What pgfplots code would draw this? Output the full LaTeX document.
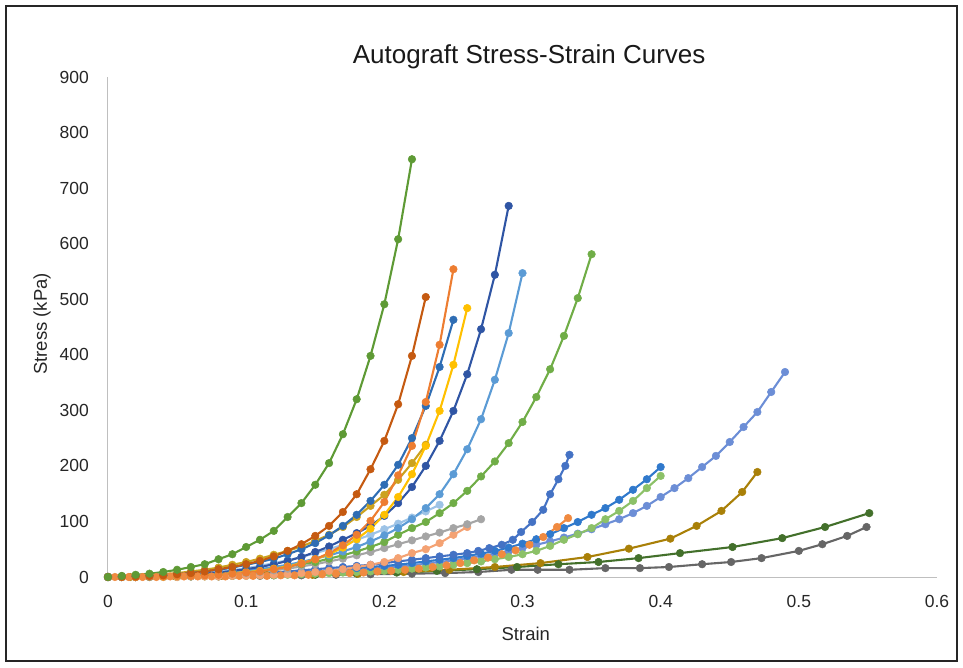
\documentclass[border=0pt]{standalone}
\usepackage{fontspec}
\setmainfont{Liberation Sans}
\usepackage{pgfplots}
\pgfplotsset{compat=1.18}
\definecolor{cA}{HTML}{5E9A35}
\definecolor{cB}{HTML}{C55A11}
\definecolor{cC}{HTML}{ED7D31}
\definecolor{cD}{HTML}{2E6DB4}
\definecolor{cE}{HTML}{FFC000}
\definecolor{cE2}{HTML}{CCA21E}
\definecolor{cF}{HTML}{2F55A4}
\definecolor{cG}{HTML}{5B9BD5}
\definecolor{cH}{HTML}{9DC3E6}
\definecolor{cI}{HTML}{70AD47}
\definecolor{cJ}{HTML}{A5A5A5}
\definecolor{cK}{HTML}{F4A273}
\definecolor{cK2}{HTML}{F08A40}
\definecolor{cL}{HTML}{4472C4}
\definecolor{cM}{HTML}{3079CC}
\definecolor{cN}{HTML}{8CC168}
\definecolor{cO}{HTML}{6C8ED6}
\definecolor{cP}{HTML}{A98008}
\definecolor{cQ}{HTML}{43702B}
\definecolor{cR}{HTML}{666666}
\pgfplotsset{
  ser/.style={color=#1, line width=2.1pt, mark=*, mark size=3.8pt, mark options={fill=#1, draw=#1, line width=0.5pt}}
}
\begin{document}
\begin{tikzpicture}
\begin{axis}[
  at={(0pt,0pt)}, anchor=origin, scale only axis,
  width=829pt, height=500pt,
  xmin=0, xmax=0.6, ymin=0, ymax=900,
  axis x line*=bottom, axis y line*=left,
  axis line style={draw=black!25, line width=1pt},
  major tick length=0pt,
  xtick={0,0.1,0.2,0.3,0.4,0.5,0.6},
  xticklabels={0,0.1,0.2,0.3,0.4,0.5,0.6},
  ytick={0,100,200,300,400,500,600,700,800,900},
  /pgf/number format/assume math mode=true,
  tick label style={font=\fontsize{17.5}{19}\selectfont, text=black!85},
  yticklabel style={inner sep=0pt, xshift=-19pt},
  xticklabel style={inner sep=0pt, yshift=-18pt},
  xlabel={Strain},
  ylabel={Stress (kPa)},
  xlabel style={at={(axis description cs:0.504,-0.114)}, anchor=center, font=\fontsize{18.5}{20}\selectfont, text=black!85},
  ylabel style={at={(axis description cs:-0.0796,0.506)}, anchor=center, font=\fontsize{18.5}{20}\selectfont, text=black!85},
  title={Autograft Stress-Strain Curves},
  title style={at={(axis description cs:0.508,1.028)}, anchor=center, font=\fontsize{26}{30}\selectfont, text=black!90},
  clip=false,
]
\addplot[ser=cR] coordinates {(0,0)(0.02,0)(0.05,1)(0.08,1)(0.11,2)(0.14,3)(0.165,4)(0.19,5)(0.22,6)(0.244,7)(0.268,9)(0.292,13)(0.311,13)(0.334,13)(0.36,16)(0.385,16)(0.406,18)(0.43,23)(0.451,27)(0.473,34)(0.5,47)(0.517,59)(0.535,74)(0.549,90)};
\addplot[ser=cQ] coordinates {(0,0)(0.03,0)(0.06,1)(0.09,2)(0.12,3)(0.15,4)(0.18,6)(0.209,8)(0.238,11)(0.267,14)(0.296,18)(0.326,23)(0.355,27)(0.384,34)(0.414,43)(0.452,54)(0.488,70)(0.519,90)(0.551,115)};
\addplot[ser=cP] coordinates {(0,0)(0.016,0)(0.049,1)(0.082,2)(0.115,3)(0.148,4)(0.181,6)(0.214,9)(0.247,13)(0.28,18)(0.313,25)(0.347,36)(0.377,51)(0.407,69)(0.426,92)(0.444,119)(0.459,153)(0.47,189)};
\addplot[ser=cO] coordinates {(0,0)(0.01,0)(0.02,0)(0.03,0)(0.04,1)(0.05,1)(0.06,1)(0.07,2)(0.08,2)(0.09,3)(0.10,3)(0.11,4)(0.12,5)(0.13,6)(0.14,7)(0.15,8)(0.16,10)(0.17,11)(0.18,13)(0.19,15)(0.20,17)(0.21,19)(0.22,21)(0.23,24)(0.24,27)(0.25,30)(0.26,34)(0.27,38)(0.28,42)(0.29,47)(0.30,52)(0.31,58)(0.32,64)(0.33,71)(0.34,78)(0.35,86)(0.36,95)(0.37,104)(0.38,115)(0.39,128)(0.40,144)(0.41,160)(0.42,178)(0.43,198)(0.44,218)(0.45,243)(0.46,270)(0.47,297)(0.48,333)(0.49,369)};
\addplot[ser=cN] coordinates {(0,0)(0.01,0)(0.02,0)(0.03,0)(0.04,0)(0.05,0)(0.06,1)(0.07,1)(0.08,1)(0.09,2)(0.10,2)(0.11,3)(0.12,3)(0.13,4)(0.14,5)(0.15,6)(0.16,7)(0.17,8)(0.18,9)(0.19,10)(0.20,11)(0.21,13)(0.22,15)(0.23,17)(0.24,19)(0.25,22)(0.26,25)(0.27,28)(0.28,32)(0.29,36)(0.30,41)(0.31,47)(0.32,56)(0.33,67)(0.34,77)(0.35,88)(0.36,104)(0.37,119)(0.38,137)(0.39,160)(0.40,182)};
\addplot[ser=cM] coordinates {(0,0)(0.01,0)(0.02,0)(0.03,1)(0.04,1)(0.05,2)(0.06,2)(0.07,3)(0.08,3)(0.09,4)(0.10,5)(0.11,6)(0.12,7)(0.13,8)(0.14,9)(0.15,10)(0.16,12)(0.17,14)(0.18,16)(0.19,18)(0.20,20)(0.21,22)(0.22,25)(0.23,28)(0.24,31)(0.25,34)(0.26,38)(0.27,42)(0.28,47)(0.29,53)(0.30,60)(0.31,68)(0.32,77)(0.33,88)(0.34,99)(0.35,112)(0.36,124)(0.37,139)(0.38,157)(0.39,176)(0.40,198)};
\addplot[ser=cL] coordinates {(0,0)(0.01,0)(0.02,0)(0.03,1)(0.04,1)(0.05,2)(0.06,2)(0.07,3)(0.08,4)(0.09,5)(0.10,6)(0.11,7)(0.12,8)(0.13,10)(0.14,12)(0.15,14)(0.16,16)(0.17,18)(0.18,20)(0.19,22)(0.20,25)(0.21,28)(0.22,31)(0.23,34)(0.24,37)(0.25,40)(0.26,43)(0.268,47)(0.276,52)(0.285,58)(0.293,67)(0.299,81)(0.307,99)(0.315,121)(0.32,149)(0.326,176)(0.331,200)(0.334,220)};
\addplot[ser=cK2] coordinates {(0,0)(0.005,0)(0.015,0)(0.025,0)(0.035,0)(0.045,1)(0.055,1)(0.065,1)(0.075,1)(0.085,1)(0.095,2)(0.105,2)(0.115,2)(0.125,3)(0.135,3)(0.145,4)(0.155,5)(0.165,6)(0.175,7)(0.185,8)(0.195,10)(0.205,11)(0.215,13)(0.225,15)(0.235,18)(0.245,21)(0.255,25)(0.265,30)(0.275,35)(0.285,41)(0.295,48)(0.305,58)(0.315,72)(0.325,90)(0.333,106)};
\addplot[ser=cK] coordinates {(0,0)(0.01,0)(0.02,0)(0.03,0)(0.04,0)(0.05,0)(0.06,1)(0.07,1)(0.08,1)(0.09,2)(0.10,2)(0.11,3)(0.12,4)(0.13,5)(0.14,7)(0.15,9)(0.16,11)(0.17,14)(0.18,18)(0.19,22)(0.20,27)(0.21,34)(0.22,43)(0.23,50)(0.24,61)(0.25,76)(0.26,90)};
\addplot[ser=cJ] coordinates {(0,0)(0.01,0)(0.02,1)(0.03,1)(0.04,2)(0.05,2)(0.06,3)(0.07,4)(0.08,5)(0.09,6)(0.10,7)(0.11,9)(0.12,12)(0.13,15)(0.14,19)(0.15,23)(0.16,28)(0.17,33)(0.18,39)(0.19,45)(0.20,52)(0.21,59)(0.22,66)(0.23,73)(0.24,80)(0.25,88)(0.26,95)(0.27,104)};
\addplot[ser=cH] coordinates {(0,0)(0.01,0)(0.02,1)(0.03,1)(0.04,2)(0.05,3)(0.06,5)(0.07,7)(0.08,9)(0.09,12)(0.10,16)(0.11,20)(0.12,25)(0.13,30)(0.14,36)(0.15,43)(0.16,50)(0.17,58)(0.18,67)(0.19,76)(0.20,86)(0.21,96)(0.22,107)(0.23,118)(0.24,130)};
\addplot[ser=cI] coordinates {(0,0)(0.01,0)(0.02,1)(0.03,1)(0.04,2)(0.05,2)(0.06,3)(0.07,4)(0.08,6)(0.09,8)(0.10,10)(0.11,12)(0.12,15)(0.13,19)(0.14,23)(0.15,27)(0.16,33)(0.17,39)(0.18,46)(0.19,54)(0.20,63)(0.21,76)(0.22,88)(0.23,99)(0.24,115)(0.25,133)(0.26,155)(0.27,181)(0.28,208)(0.29,241)(0.30,279)(0.31,324)(0.32,374)(0.33,434)(0.34,502)(0.35,581)};
\addplot[ser=cG] coordinates {(0,0)(0.01,0)(0.02,1)(0.03,1)(0.04,2)(0.05,3)(0.06,4)(0.07,5)(0.08,7)(0.09,9)(0.10,11)(0.11,14)(0.12,18)(0.13,22)(0.14,27)(0.15,33)(0.16,39)(0.17,46)(0.18,54)(0.19,64)(0.20,75)(0.21,88)(0.22,104)(0.23,124)(0.24,149)(0.25,185)(0.26,230)(0.27,284)(0.28,355)(0.29,439)(0.30,547)};
\addplot[ser=cF] coordinates {(0,0)(0.01,0)(0.02,1)(0.03,1)(0.04,2)(0.05,3)(0.06,4)(0.07,6)(0.08,8)(0.09,11)(0.10,14)(0.11,18)(0.12,23)(0.13,29)(0.14,36)(0.15,45)(0.16,55)(0.17,67)(0.18,79)(0.19,92)(0.20,110)(0.21,133)(0.22,162)(0.23,200)(0.24,245)(0.25,299)(0.26,365)(0.27,446)(0.28,544)(0.29,668)};
\addplot[ser=cE2] coordinates {(0,0)(0.01,1)(0.02,2)(0.03,3)(0.04,5)(0.05,7)(0.06,10)(0.07,13)(0.08,17)(0.09,22)(0.10,27)(0.11,33)(0.12,40)(0.13,47)(0.14,55)(0.15,65)(0.16,76)(0.17,90)(0.18,108)(0.19,128)(0.20,148)(0.21,175)(0.22,205)(0.23,238)};
\addplot[ser=cE] coordinates {(0,0)(0.01,0)(0.02,0)(0.03,1)(0.04,1)(0.05,2)(0.06,3)(0.07,4)(0.08,5)(0.09,7)(0.10,9)(0.11,11)(0.12,15)(0.13,19)(0.14,25)(0.15,32)(0.16,41)(0.17,53)(0.18,68)(0.19,87)(0.20,112)(0.21,144)(0.22,185)(0.23,236)(0.24,299)(0.25,382)(0.26,484)};
\addplot[ser=cD] coordinates {(0,0)(0.01,1)(0.02,1)(0.03,2)(0.04,4)(0.05,5)(0.06,7)(0.07,10)(0.08,13)(0.09,17)(0.10,22)(0.11,27)(0.12,33)(0.13,41)(0.14,50)(0.15,61)(0.16,75)(0.17,92)(0.18,112)(0.19,137)(0.20,166)(0.21,202)(0.22,250)(0.23,308)(0.24,378)(0.25,463)};
\addplot[ser=cC] coordinates {(0,0)(0.01,0)(0.02,0)(0.03,1)(0.04,1)(0.05,2)(0.06,2)(0.07,3)(0.08,4)(0.09,6)(0.10,8)(0.11,10)(0.12,14)(0.13,18)(0.14,24)(0.15,32)(0.16,43)(0.17,57)(0.18,76)(0.19,101)(0.20,135)(0.21,183)(0.22,236)(0.23,315)(0.24,418)(0.25,554)};
\addplot[ser=cB] coordinates {(0,0)(0.01,0.5)(0.02,1)(0.03,2)(0.04,3)(0.05,5)(0.06,7)(0.07,10)(0.08,14)(0.09,18)(0.10,23)(0.11,29)(0.12,37)(0.13,47)(0.14,59)(0.15,74)(0.16,92)(0.17,117)(0.18,149)(0.19,194)(0.20,245)(0.21,311)(0.22,398)(0.23,504)};
\addplot[ser=cA] coordinates {(0,0)(0.01,2)(0.02,4)(0.03,6)(0.04,9)(0.05,13)(0.06,18)(0.07,23)(0.08,32)(0.09,41)(0.10,54)(0.11,67)(0.12,83)(0.13,108)(0.14,133)(0.15,166)(0.16,205)(0.17,257)(0.18,320)(0.19,398)(0.20,491)(0.21,608)(0.22,752)};
\end{axis}
\pgfresetboundingbox
\path[use as bounding box] (-108pt,-90pt) rectangle (855pt,577pt);
\draw[line width=1.2pt, black!85] (-102pt,-84pt) rectangle (849pt,571pt);
\end{tikzpicture}
\end{document}
